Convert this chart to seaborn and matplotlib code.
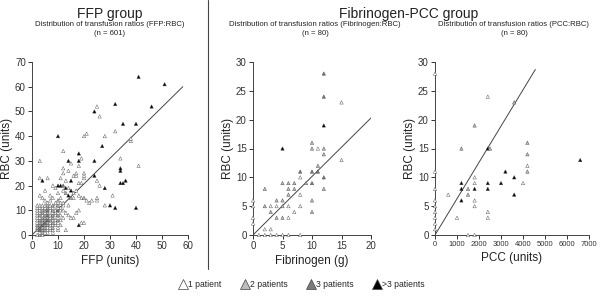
import pandas as pd
import matplotlib.pyplot as plt
import seaborn as sns
from matplotlib.lines import Line2D

# Data: (x, y, number-of-patients category 1..4 where 4 means ">3")
ffp_points = [
    (2, 0, 1), (3, 0, 2), (4, 0, 1),
    (3, 1, 1), (4, 1, 2), (5, 1, 1), (6, 1, 1), (8, 1, 1),
    (2, 2, 2), (3, 2, 3), (4, 2, 2), (5, 2, 2), (6, 2, 1), (7, 2, 1), (8, 2, 1), (10, 2, 1), (13, 2, 1),
    (2, 3, 2), (3, 3, 3), (4, 3, 2), (5, 3, 2), (6, 3, 1), (7, 3, 1), (8, 3, 2), (10, 3, 1),
    (2, 4, 2), (3, 4, 2), (4, 4, 3), (5, 4, 2), (6, 4, 2), (7, 4, 1), (8, 4, 1), (9, 4, 1), (11, 4, 1), (18, 4, 4),
    (2, 5, 1), (3, 5, 2), (4, 5, 2), (5, 5, 3), (6, 5, 2), (7, 5, 1), (8, 5, 2), (9, 5, 1), (10, 5, 1), (19, 5, 1), (20, 5, 1),
    (2, 6, 1), (3, 6, 2), (4, 6, 2), (5, 6, 2), (6, 6, 3), (7, 6, 2), (8, 6, 1), (9, 6, 1), (10, 6, 2), (11, 6, 1),
    (2, 7, 1), (3, 7, 1), (4, 7, 2), (5, 7, 2), (6, 7, 2), (7, 7, 1), (8, 7, 2), (10, 7, 1), (12, 7, 1), (15, 7, 1), (16, 7, 1),
    (2, 8, 1), (3, 8, 2), (4, 8, 1), (5, 8, 2), (6, 8, 3), (7, 8, 1), (8, 8, 2), (9, 8, 1), (10, 8, 2), (11, 8, 1), (14, 8, 1),
    (2, 9, 1), (3, 9, 1), (4, 9, 2), (5, 9, 1), (6, 9, 2), (8, 9, 1), (9, 9, 1), (10, 9, 1), (13, 9, 1), (17, 9, 1),
    (2, 10, 1), (3, 10, 1), (4, 10, 2), (5, 10, 2), (6, 10, 3), (7, 10, 1), (8, 10, 2), (9, 10, 1), (10, 10, 3), (11, 10, 1), (12, 10, 1), (18, 10, 1),
    (2, 11, 1), (3, 11, 1), (4, 11, 1), (5, 11, 1), (6, 11, 2), (7, 11, 1), (8, 11, 1), (10, 11, 1), (11, 11, 1), (32, 11, 4), (40, 11, 4),
    (2, 12, 1), (3, 12, 1), (4, 12, 1), (5, 12, 1), (6, 12, 2), (7, 12, 1), (8, 12, 2), (9, 12, 1), (10, 12, 2), (12, 12, 1), (14, 12, 1), (28, 12, 1), (30, 12, 4),
    (6, 13, 1), (9, 13, 1), (11, 13, 1), (12, 13, 1), (22, 13, 1),
    (5, 14, 1), (7, 14, 1), (10, 14, 2), (21, 14, 1), (23, 14, 1), (25, 14, 1),
    (4, 15, 1), (8, 15, 1), (11, 15, 1), (15, 15, 2), (16, 15, 1), (19, 15, 1), (20, 15, 2), (25, 15, 1),
    (3, 16, 1), (7, 16, 1), (14, 16, 4), (18, 16, 1), (31, 16, 1),
    (10, 17, 1), (13, 17, 2), (16, 17, 1),
    (5, 18, 1), (12, 18, 1), (15, 18, 4), (17, 18, 1),
    (9, 19, 1), (13, 19, 4), (14, 19, 1), (28, 19, 4),
    (8, 20, 1), (10, 20, 4), (11, 20, 4), (12, 20, 3), (26, 20, 1),
    (18, 21, 1), (19, 21, 1), (34, 21, 4), (35, 21, 4),
    (4, 22, 4), (13, 22, 1), (15, 22, 4), (25, 22, 1), (36, 22, 4),
    (3, 23, 1), (6, 23, 1), (11, 23, 1), (20, 23, 1),
    (16, 24, 1), (17, 24, 1), (20, 24, 1), (24, 24, 4),
    (12, 25, 1), (17, 25, 1), (20, 25, 1),
    (14, 26, 1), (34, 26, 4), (12, 27, 1), (34, 27, 4),
    (18, 28, 1), (41, 28, 1), (15, 29, 1),
    (3, 30, 1), (14, 30, 4), (18, 30, 4), (24, 30, 4),
    (19, 31, 1), (34, 31, 1), (18, 33, 4), (12, 34, 1), (27, 36, 4),
    (38, 38, 1), (38, 39, 1), (10, 40, 4), (20, 40, 1), (28, 40, 1),
    (21, 41, 1), (32, 42, 1), (35, 45, 4), (40, 45, 4), (26, 48, 1),
    (24, 50, 4), (25, 52, 1), (46, 52, 4), (32, 53, 4), (51, 61, 4), (41, 64, 4),
]

fib_points = [
    (0, 2, 1), (0, 3, 1), (0, 5, 1), (0, 6, 1),
    (1, 0, 1), (2, 0, 1), (3, 0, 1), (4, 0, 1), (5, 0, 1), (6, 0, 1), (8, 0, 1),
    (2, 1, 1), (3, 1, 1),
    (4, 3, 2), (5, 3, 2), (6, 3, 1),
    (3, 4, 2), (7, 4, 1), (10, 4, 2),
    (2, 5, 2), (3, 5, 1), (4, 5, 1), (5, 5, 2), (6, 5, 1), (8, 5, 1),
    (4, 6, 2), (5, 6, 2), (10, 6, 2),
    (6, 7, 2), (8, 7, 1),
    (2, 8, 2), (6, 8, 2), (7, 8, 2), (12, 8, 2),
    (5, 9, 2), (6, 9, 2), (7, 9, 2), (9, 9, 2), (10, 9, 3),
    (8, 10, 1), (12, 10, 3),
    (8, 11, 3), (10, 11, 3), (11, 11, 3), (11, 12, 2),
    (15, 13, 1), (12, 14, 2),
    (5, 15, 4), (10, 15, 2), (11, 15, 1), (12, 15, 2),
    (10, 16, 2), (12, 19, 4), (15, 23, 1), (12, 24, 3), (12, 28, 3),
]

pcc_points = [
    (0, 1, 1), (0, 2, 1), (0, 3, 1), (0, 4, 1), (0, 5, 1), (0, 6, 1), (0, 8, 1), (0, 11, 1), (0, 28, 1),
    (1500, 0, 1), (1800, 0, 1),
    (1000, 3, 1), (2400, 3, 1), (2400, 4, 1),
    (1800, 5, 1), (1200, 6, 4), (1800, 6, 1),
    (600, 7, 1), (1500, 7, 2), (3600, 7, 4),
    (1200, 8, 4), (1500, 8, 2), (1800, 8, 4), (2400, 8, 4),
    (1200, 9, 4), (1800, 9, 1), (2400, 9, 4), (3000, 9, 4), (4000, 9, 1),
    (1800, 10, 1), (3600, 10, 4),
    (3200, 11, 4), (4200, 11, 2), (4200, 12, 1), (6600, 13, 4), (4200, 14, 2), (4200, 16, 2),
    (1200, 15, 2), (2400, 15, 4), (2500, 15, 2),
    (1800, 19, 2), (3600, 23, 2), (2400, 24, 1),
]

# reference lines (start, end)
ffp_line_x = [0, 58]
ffp_line_y = [0, 60]
fib_line_x = [0, 20]
fib_line_y = [0, 20.3]
pcc_line_x = [0, 4560]
pcc_line_y = [0, 28.7]

legend_labels = ["1 patient", "2 patients", "3 patients", ">3 patients"]
palette = {1: "white", 2: "#bdbdbd", 3: "#7a7a7a", 4: "black"}
EDGE = "#444444"

sns.set_style("ticks")
plt.rcParams['font.family'] = ['Liberation Sans', 'DejaVu Sans']

fig = plt.figure(figsize=(6, 2.98), dpi=100)

panels = [
    dict(pts=ffp_points, lx=ffp_line_x, ly=ffp_line_y, rect=[32/600, 1-235/298, 156/600, 173/298],
         xlim=(0, 60), xt=range(0, 61, 10), ylim=(0, 70), yt=range(0, 71, 10), xfs=7,
         xlabel="FFP (units)", sub="Distribution of transfusion ratios (FFP:RBC)\n(n = 601)", cx=110),
    dict(pts=fib_points, lx=fib_line_x, ly=fib_line_y, rect=[253/600, 1-235/298, 118/600, 173/298],
         xlim=(0, 20), xt=range(0, 21, 5), ylim=(0, 30), yt=range(0, 31, 5), xfs=7,
         xlabel="Fibrinogen (g)", sub="Distribution of transfusion ratios (Fibrinogen:RBC)\n(n = 80)", cx=315),
    dict(pts=pcc_points, lx=pcc_line_x, ly=pcc_line_y, rect=[435/600, 1-235/298, 154/600, 173/298],
         xlim=(0, 7000), xt=range(0, 7001, 1000), ylim=(0, 30), yt=range(0, 31, 5), xfs=5.5,
         xlabel="PCC (units)", sub="Distribution of transfusion ratios (PCC:RBC)\n(n = 80)", cx=514),
]

for p in panels:
    ax = fig.add_axes(p["rect"])
    df = pd.DataFrame(p["pts"], columns=["x", "y", "n"])
    sns.lineplot(x=p["lx"], y=p["ly"], ax=ax, color="#444444", linewidth=0.7)
    sns.scatterplot(data=df, x="x", y="y", hue="n", palette=palette, marker="^", s=6,
                    edgecolor=EDGE, linewidth=0.3, legend=False, ax=ax, clip_on=False, zorder=3)
    ax.set_xlim(*p["xlim"])
    ax.set_ylim(*p["ylim"])
    ax.set_xticks(list(p["xt"]))
    ax.set_yticks(list(p["yt"]))
    ax.tick_params(labelsize=7, length=3, width=0.7, colors="#333333", pad=1.5)
    ax.tick_params(axis="x", labelsize=p["xfs"])
    for s in ["left", "bottom"]:
        ax.spines[s].set_linewidth(0.7)
        ax.spines[s].set_color("#444444")
    sns.despine(ax=ax)
    ax.set_xlabel(p["xlabel"], fontsize=8.5, color="#222222", labelpad=3)
    ax.set_ylabel("RBC (units)", fontsize=8.5, color="#222222", labelpad=1.5)
    fig.text(p["cx"] / 600, 1 - 21 / 298, p["sub"], ha="center", va="top",
             fontsize=5.6, color="#222222", linespacing=1.4)

fig.text(0.183, 1 - 14 / 298, "FFP group", ha="center", va="center", fontsize=10, color="#222222")
fig.text(0.681, 1 - 14 / 298, "Fibrinogen-PCC group", ha="center", va="center", fontsize=10, color="#222222")
fig.add_artist(Line2D([0.347, 0.347], [1.0, 0.097], transform=fig.transFigure,
                      color="#444444", linewidth=0.8))

handles = [Line2D([], [], linestyle="none", marker="^", markersize=6.5, markerfacecolor=palette[k],
                  markeredgecolor=EDGE, markeredgewidth=0.5) for k in [1, 2, 3, 4]]
fig.legend(handles, legend_labels, loc="center", bbox_to_anchor=(0.503, 0.045), ncol=4,
           frameon=False, fontsize=6.2, handletextpad=0.1, columnspacing=2.2, handlelength=1.0)

fig.savefig("out.png", dpi=100)
